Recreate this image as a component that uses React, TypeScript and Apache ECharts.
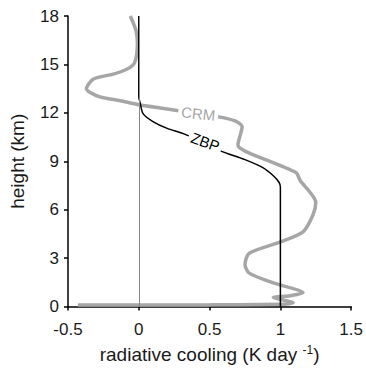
import React, { useEffect, useRef } from "react";
import * as echarts from "echarts";

const xTicks = [-0.5, 0, 0.5, 1, 1.5];
const yTicks = [0, 3, 6, 9, 12, 15, 18];

const crmCooling = [-0.06, -0.02, -0.01, -0.03, -0.085, -0.18, -0.32, -0.37, -0.28, -0.13, 0, 0.31, 0.565, 0.68, 0.73, 0.7, 0.757, 1.11, 1.14, 1.21, 1.25, 1.23, 1.16, 1.0, 0.78, 0.75, 0.78, 0.95, 1.16, 1.07, 0.95, 1.0, 1.09, 1.05, 0.5, -0.43];
const crmHeight = [18, 17.1, 16.3, 15.1, 14.7, 14.4, 14.1, 13.5, 13.0, 12.75, 12.5, 12.1, 11.75, 11.5, 11.15, 10.0, 9.6, 8.3, 7.8, 7.07, 6.46, 5.67, 4.63, 4.0, 3.3, 2.6, 2.07, 1.46, 0.85, 0.67, 0.55, 0.43, 0.25, 0.15, 0.1, 0.09];

const zbpCooling = [0, 0, 0.01, 0.03, 0.1, 0.2, 0.31, 0.45, 0.58, 0.75, 0.876, 0.95, 0.99, 1.0, 1.0];
const zbpHeight = [18, 13, 12.6, 11.95, 11.46, 11.04, 10.73, 10.2, 9.63, 9.1, 8.6, 8.1, 7.7, 7.4, 0];

const curveLabels = ["CRM", "ZBP"];
const labelCooling = [0.42, 0.47];
const labelHeight = [11.95, 10.2];
const labelRotationDeg = [-6, -20];
const labelColors = ["#a6a6a6", "#000000"];

export default function App() {
  const ref = useRef<HTMLDivElement>(null);
  useEffect(() => {
    if (!ref.current) return;
    const chart = echarts.init(ref.current, undefined, { renderer: "svg" });
    const font = "'Liberation Sans', Arial, sans-serif";
    chart.setOption({
      animation: false,
      grid: { left: 68, right: 14, top: 16, bottom: 58 },
      xAxis: {
        type: "value",
        min: -0.5,
        max: 1.5,
        interval: 0.5,
        name: "radiative cooling (K day {sup|-1})",
        nameLocation: "middle",
        nameGap: 37,
        nameTextStyle: {
          fontFamily: font,
          fontSize: 19,
          color: "#1a1a1a",
          rich: {
            sup: { fontSize: 12, fontFamily: font, color: "#1a1a1a", padding: [0, 0, 10, 0] },
          },
        },
        axisLine: { show: true, onZero: false, lineStyle: { color: "#000", width: 1.5 } },
        axisTick: { show: true, inside: false, length: 4, lineStyle: { color: "#000", width: 1.5 } },
        axisLabel: {
          fontFamily: font,
          fontSize: 17,
          color: "#1a1a1a",
          margin: 14,
          formatter: (v: number) => (xTicks.includes(v) ? String(v) : ""),
        },
        splitLine: { show: false },
      },
      yAxis: {
        type: "value",
        min: 0,
        max: 18,
        interval: 3,
        name: "height (km)",
        nameLocation: "middle",
        nameGap: 41,
        nameTextStyle: { fontFamily: font, fontSize: 19, color: "#1a1a1a" },
        axisLine: { show: true, onZero: false, lineStyle: { color: "#000", width: 1.5 } },
        axisTick: { show: true, inside: false, length: 4, lineStyle: { color: "#000", width: 1.5 } },
        axisLabel: {
          fontFamily: font,
          fontSize: 17,
          color: "#1a1a1a",
          margin: 9,
          formatter: (v: number) => (yTicks.includes(v) ? String(v) : ""),
        },
        splitLine: { show: false },
      },
      series: [
        {
          type: "line",
          data: [],
          z: 1,
          markLine: {
            silent: true,
            symbol: "none",
            label: { show: false },
            lineStyle: { color: "#888888", width: 1, type: "solid" },
            data: [{ xAxis: 0 }],
          },
        },
        {
          name: "CRM",
          type: "line",
          z: 3,
          showSymbol: false,
          smooth: 0.25,
          data: crmCooling.map((c, i) => [c, crmHeight[i]]),
          lineStyle: { color: "#a6a6a6", width: 3.5 },
        },
        {
          name: "ZBP",
          type: "line",
          z: 4,
          showSymbol: false,
          smooth: 0.25,
          data: zbpCooling.map((c, i) => [c, zbpHeight[i]]),
          lineStyle: { color: "#000000", width: 1.5 },
        },
      ],
    });
    const graphics = curveLabels.map((t, i) => {
      const p = chart.convertToPixel({ gridIndex: 0 }, [labelCooling[i], labelHeight[i]]) as number[];
      return {
        type: "text",
        x: p[0],
        y: p[1],
        rotation: (labelRotationDeg[i] * Math.PI) / 180,
        z: 10,
        style: {
          text: t,
          fontFamily: font,
          fontSize: 15,
          fill: labelColors[i],
          align: "center",
          verticalAlign: "middle",
          backgroundColor: "#ffffff",
          padding: [0, 3],
        },
      };
    });
    chart.setOption({ graphic: graphics });
    return () => chart.dispose();
  }, []);
  return <div ref={ref} style={{ position: "absolute", left: 0, top: 0, width: 366, height: 369 }} />;
}
